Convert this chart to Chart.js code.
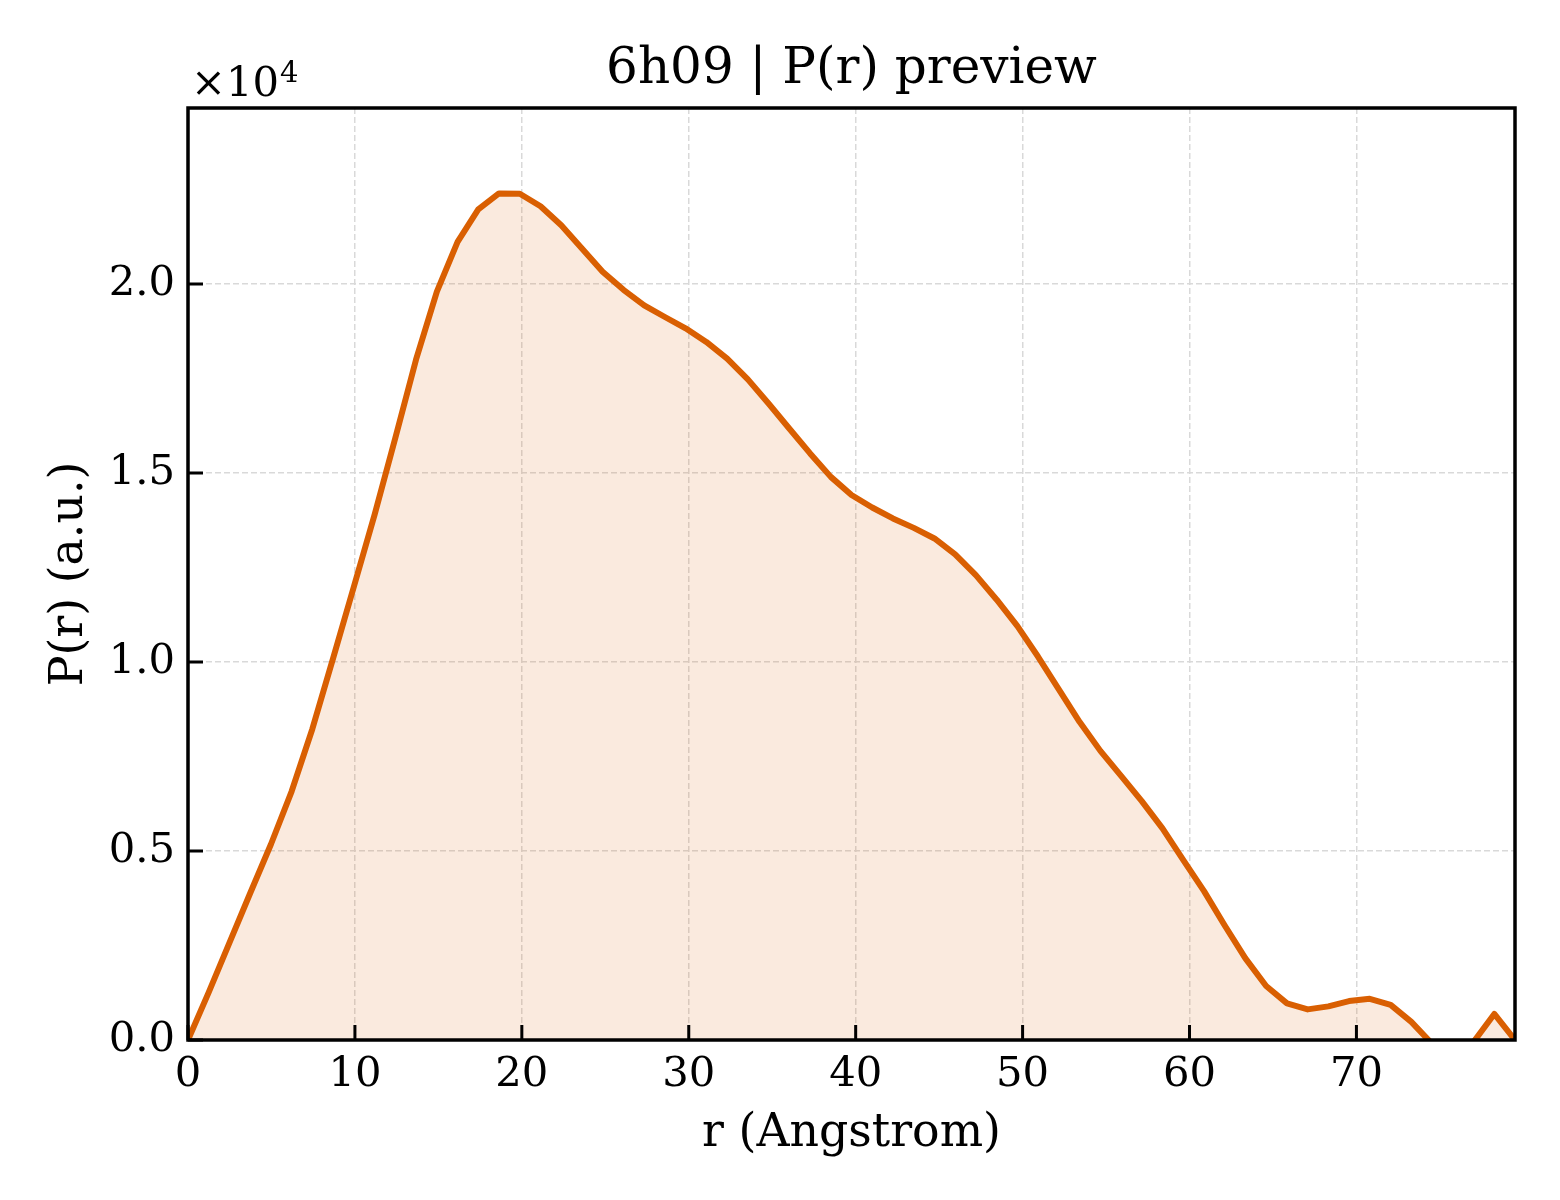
<!DOCTYPE html>
<html>
<head>
<meta charset="utf-8">
<script src="https://cdn.jsdelivr.net/npm/chart.js@4.4.1/dist/chart.umd.min.js"></script>
<style>
  html, body { margin: 0; padding: 0; background: #ffffff; }
  #wrap { width: 1560px; height: 1200px; }
</style>
</head>
<body>
<div id="wrap"><canvas id="c" width="1560" height="1200"></canvas></div>
<script>
// r values (Angstrom)
const rValues = [0, 1.24, 2.48, 3.73, 4.97, 6.21, 7.45, 8.70, 9.94, 11.18,
  12.42, 13.66, 14.91, 16.15, 17.39, 18.63, 19.88, 21.12, 22.36, 23.60,
  24.84, 26.09, 27.33, 28.57, 29.81, 31.05, 32.30, 33.54, 34.78, 36.02,
  37.27, 38.51, 39.75, 40.99, 42.23, 43.48, 44.72, 45.96, 47.20, 48.45,
  49.69, 50.93, 52.17, 53.41, 54.66, 55.90, 57.14, 58.38, 59.63, 60.87,
  62.11, 63.35, 64.59, 65.84, 67.08, 68.32, 69.56, 70.80, 72.05, 73.29,
  74.53, 75.77, 77.02, 78.26, 79.50];
// P(r) values (a.u.)
const prValues = [0, 1260, 2570, 3890, 5180, 6580, 8230, 10110, 12000, 13900,
  15930, 18000, 19800, 21120, 21980, 22400, 22390, 22060, 21560, 20940,
  20330, 19850, 19440, 19130, 18830, 18470, 18030, 17480, 16840, 16180,
  15520, 14900, 14420, 14090, 13800, 13550, 13270, 12850, 12300, 11650,
  10950, 10140, 9280, 8420, 7650, 6990, 6320, 5600, 4760, 3940,
  3030, 2160, 1430, 970, 810, 890, 1030, 1090, 930, 480,
  -100, -300, -50, 690, 0];
const xTicks = [0, 10, 20, 30, 40, 50, 60, 70];
const yTicks = [0, 5000, 10000, 15000, 20000];
const yTickLabels = ['0.0', '0.5', '1.0', '1.5', '2.0'];

const titleText = '6h09 | P(r) preview';
const xTitle = 'r (Angstrom)';
const yTitle = 'P(r) (a.u.)';

const FONT = "'DejaVu Serif', 'Liberation Serif', serif";
const lineColor = '#d95f02';
const fillColor = 'rgba(217,95,2,0.13)';

const points = rValues.map((r, i) => ({ x: r, y: prValues[i] }));

const framePlugin = {
  id: 'frame',
  afterDraw(chart) {
    const { ctx, chartArea: a, scales } = chart;
    ctx.save();
    // inward ticks
    ctx.strokeStyle = '#000';
    ctx.lineWidth = 3;
    ctx.beginPath();
    xTicks.forEach(v => {
      const px = scales.x.getPixelForValue(v);
      ctx.moveTo(px, a.bottom);
      ctx.lineTo(px, a.bottom - 15);
    });
    yTicks.forEach(v => {
      const py = scales.y.getPixelForValue(v);
      ctx.moveTo(a.left, py);
      ctx.lineTo(a.left + 15, py);
    });
    ctx.stroke();
    // spines
    ctx.lineWidth = 3.5;
    ctx.strokeRect(a.left, a.top, a.right - a.left, a.bottom - a.top);
    // offset text
    ctx.fillStyle = '#000';
    ctx.textBaseline = 'alphabetic';
    ctx.textAlign = 'left';
    ctx.font = '41.7px ' + FONT;
    ctx.fillText('\u00d710', a.left + 3, 96);
    const w = ctx.measureText('\u00d710').width;
    ctx.font = '29px ' + FONT;
    ctx.fillText('4', a.left + 3 + w + 1, 82);
    ctx.restore();
  }
};

new Chart(document.getElementById('c'), {
  type: 'line',
  data: {
    datasets: [{
      data: points,
      borderColor: lineColor,
      backgroundColor: fillColor,
      borderWidth: 6,
      fill: 'origin',
      pointRadius: 0,
      tension: 0,
      borderJoinStyle: 'round',
      clip: 0
    }]
  },
  options: {
    responsive: false,
    animation: false,
    devicePixelRatio: 1,
    layout: { padding: { left: 0, right: 45, top: 0, bottom: 0 } },
    plugins: {
      legend: { display: false },
      tooltip: { enabled: false },
      title: {
        display: true,
        text: titleText,
        fullSize: false,
        color: '#000',
        font: { family: FONT, size: 50, weight: 'normal', lineHeight: 1.0 },
        padding: { top: 45, bottom: 13 }
      }
    },
    scales: {
      x: {
        type: 'linear',
        min: 0,
        max: 79.5,
        afterBuildTicks(scale) { scale.ticks = xTicks.map(v => ({ value: v })); },
        afterFit(scale) { scale.height = 160; },
        ticks: {
          color: '#000',
          font: { family: FONT, size: 41.7 },
          padding: 10,
          maxRotation: 0,
          callback: v => String(v)
        },
        grid: {
          drawTicks: false,
          color: '#d9d9d9',
          lineWidth: 1.5
        },
        border: { display: false, dash: [6, 3] },
        title: {
          display: true,
          text: xTitle,
          color: '#000',
          font: { family: FONT, size: 45.8 },
          padding: { top: 0, bottom: 38 }
        }
      },
      y: {
        type: 'linear',
        min: 0,
        max: 24660,
        afterBuildTicks(scale) { scale.ticks = yTicks.map(v => ({ value: v })); },
        afterFit(scale) { scale.width = 188; },
        ticks: {
          color: '#000',
          font: { family: FONT, size: 41.7 },
          padding: 13,
          callback: v => yTickLabels[yTicks.indexOf(v)]
        },
        grid: {
          drawTicks: false,
          color: '#d9d9d9',
          lineWidth: 1.5
        },
        border: { display: false, dash: [6, 3] },
        title: {
          display: true,
          text: yTitle,
          color: '#000',
          font: { family: FONT, size: 45.8 },
          padding: { top: 43, bottom: 0 }
        }
      }
    }
  },
  plugins: [framePlugin]
});
</script>
</body>
</html>
